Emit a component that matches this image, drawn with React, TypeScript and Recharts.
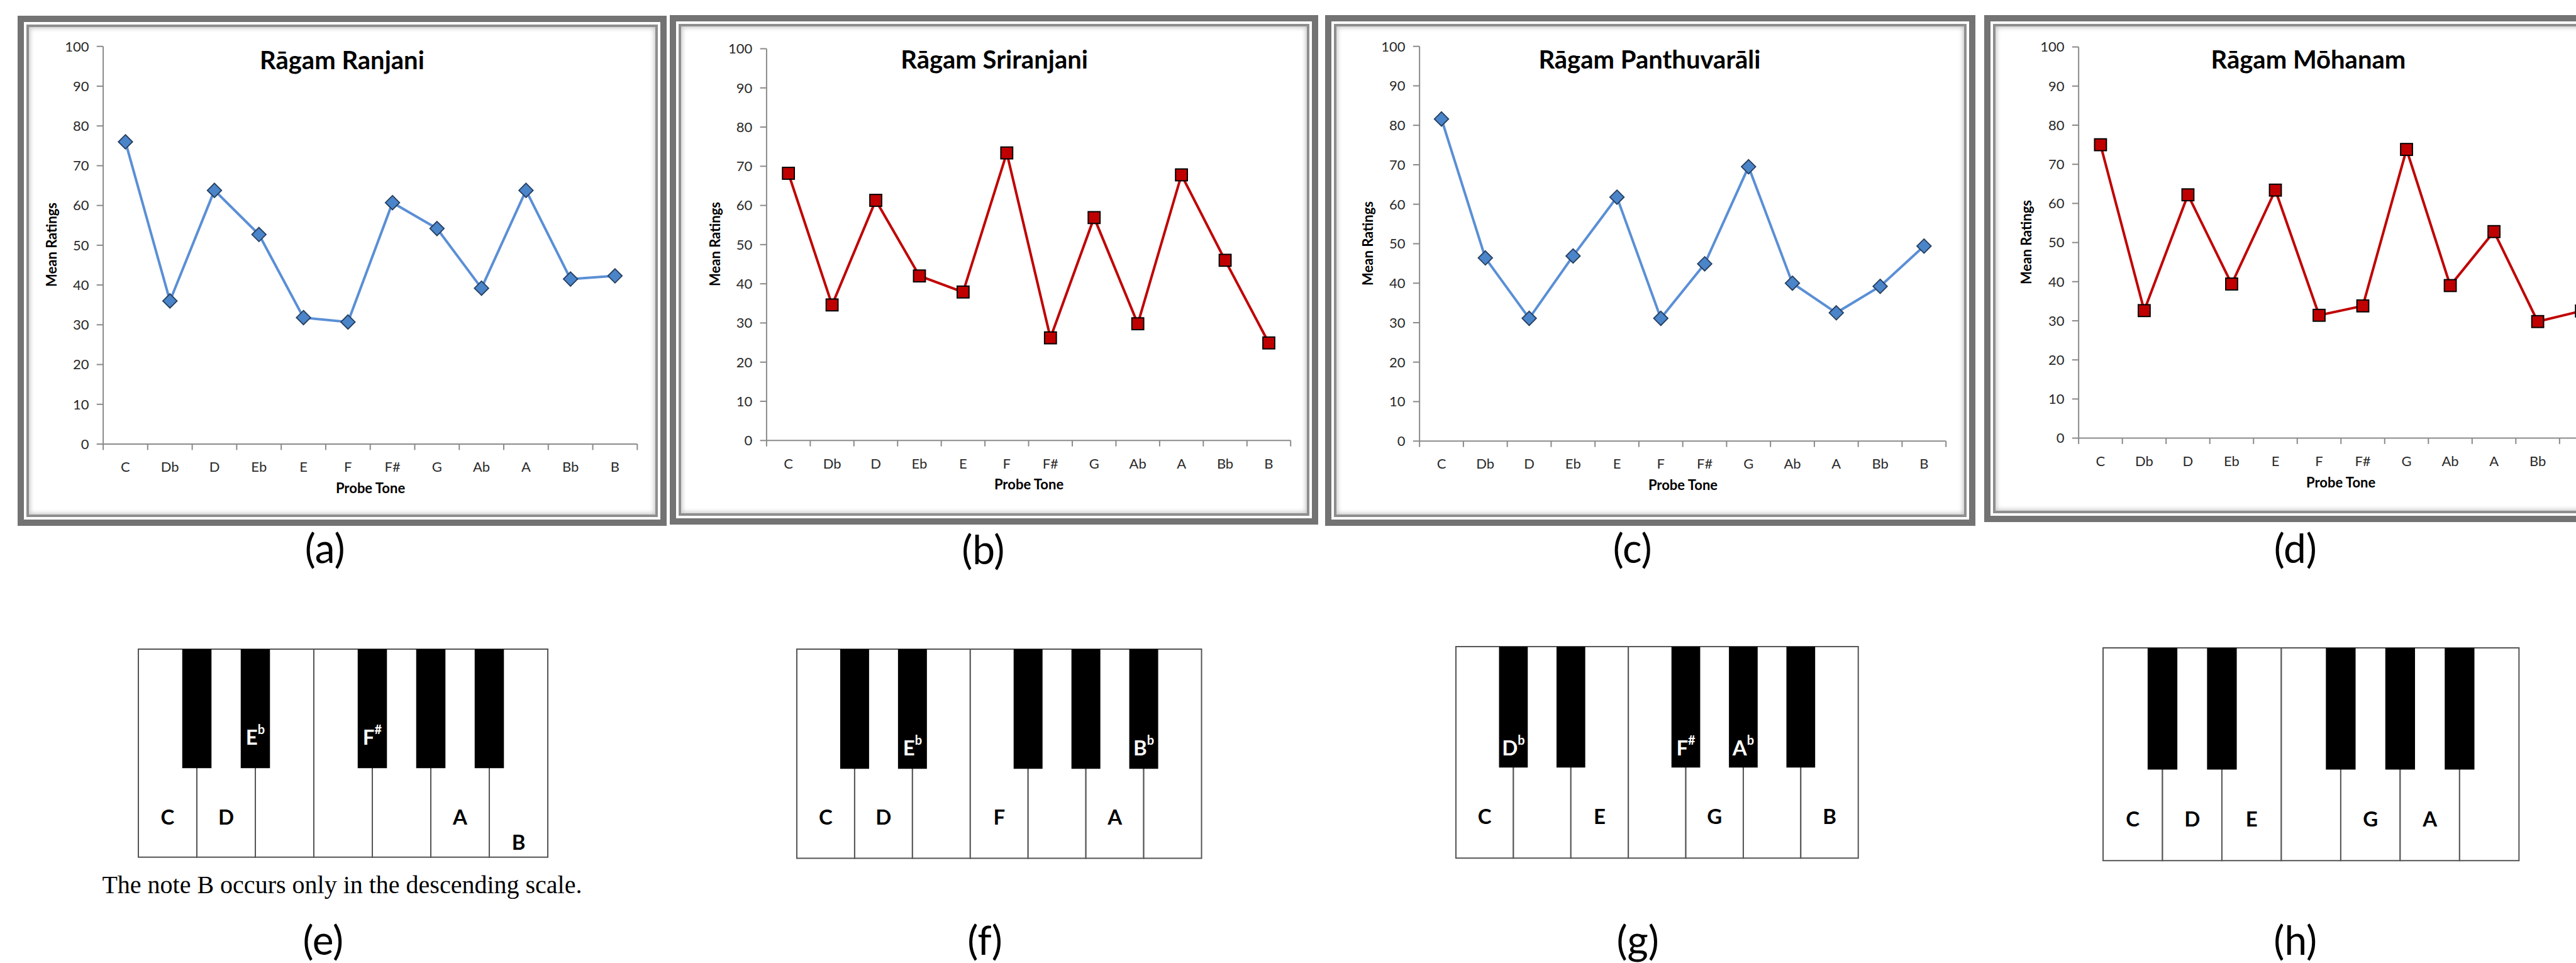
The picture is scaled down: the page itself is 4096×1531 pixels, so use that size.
import React from "react";
import {
  LineChart,
  Line,
  XAxis,
  YAxis,
  ScatterChart,
  Scatter,
  ReferenceArea,
} from "recharts";

// reference is 4360 wide, window is 4096
const S = 4096 / 4360;
const FONT = "Lato, 'Open Sans', sans-serif";
const AXIS = "#8a8a8a";

// probe tones on the x axis
const notes = ["C", "Db", "D", "Eb", "E", "F", "F#", "G", "Ab", "A", "Bb", "B"];
const yTicks = [0, 10, 20, 30, 40, 50, 60, 70, 80, 90, 100];

// mean ratings per probe tone
const ranjani = [76.0, 36.0, 63.8, 52.7, 31.8, 30.7, 60.7, 54.2, 39.2, 63.8, 41.5, 42.3];
const sriranjani = [68.2, 34.6, 61.3, 42.0, 37.9, 73.4, 26.2, 56.9, 29.8, 67.8, 46.0, 24.9];
const panthuvarali = [81.6, 46.4, 31.1, 46.9, 61.8, 31.1, 44.9, 69.5, 40.0, 32.5, 39.2, 49.4];
const mohanam = [75.0, 32.6, 62.2, 39.4, 63.4, 31.4, 33.8, 73.8, 39.0, 52.8, 29.8, 32.5];

const chartTitles = ["Rāgam Ranjani", "Rāgam Sriranjani", "Rāgam Panthuvarāli", "Rāgam Mōhanam"];
const chartTags = ["(a)", "(b)", "(c)", "(d)"];
const keyboardTags = ["(e)", "(f)", "(g)", "(h)"];

// piano keys: white by index, black keys sit on the white-key boundaries
const whiteKeys = ["C", "D", "E", "F", "G", "A", "B"];
const blackKeys = ["Db", "Eb", "F#", "Ab", "Bb"];
const blackKeyAt = [1, 2, 4, 5, 6];

// notes marked on each keyboard
const ranjaniWhite = ["C", "D", "A", "B"];
const ranjaniBlack = ["Eb", "F#"];
const sriranjaniWhite = ["C", "D", "F", "A"];
const sriranjaniBlack = ["Eb", "Bb"];
const panthuvaraliWhite = ["C", "E", "G", "B"];
const panthuvaraliBlack = ["Db", "F#", "Ab"];
const mohanamWhite = ["C", "D", "E", "G", "A"];
const mohanamBlack: string[] = [];

const footnote = "The note B occurs only in the descending scale.";

// layout, in reference pixels
const chartLayout = [
  { frame: [30, 27, 1128, 890], plot: [175, 78, 1079, 751], tag: [550, 927], red: false },
  { frame: [1134, 26, 2231, 888], plot: [1298, 82, 2185, 745], tag: [1664, 929], red: true },
  { frame: [2243, 26, 3343, 890], plot: [2403, 78, 3294, 746], tag: [2763, 927], red: false },
  { frame: [3358, 26, 4440, 884], plot: [3518, 79, 4406, 741], tag: [3885, 927], red: true },
];
const keyboardLayout = [
  { box: [234, 1098, 927, 1450], whiteY: 0.196, blackY: 0.58, low: "B", lowY: 0.074, tag: [547, 1590] },
  { box: [1349, 1098, 2034, 1452], whiteY: 0.2, blackY: 0.53, low: "", lowY: 0, tag: [1667, 1590] },
  { box: [2464, 1094, 3145, 1452], whiteY: 0.2, blackY: 0.525, low: "", lowY: 0, tag: [2772, 1590] },
  { box: [3560, 1096, 4264, 1456], whiteY: 0.2, blackY: 0.53, low: "", lowY: 0, tag: [3885, 1590] },
];

const xTicks: number[] = [];
notes.forEach((_, i) => xTicks.push(i, i + 0.5));
xTicks.push(notes.length);

const Txt = ({ x, y, size, bold, rotate, family, children }: any) => (
  <div
    style={{
      position: "absolute",
      left: x * S,
      top: y * S,
      transform: `translate(-50%, -50%)${rotate ? " rotate(-90deg)" : ""}`,
      whiteSpace: "nowrap",
      fontSize: size,
      fontWeight: bold ? 700 : 400,
      fontFamily: family || FONT,
      lineHeight: 1,
      color: "#000",
    }}
  >
    {children}
  </div>
);

// x axis: integer ticks are the tick marks between categories, half ticks carry the note names
const renderXTick = (props: any) => {
  const { x, y, payload } = props;
  const v = payload.value;
  if (Number.isInteger(v)) {
    return <line x1={x} y1={y} x2={x} y2={y + 10 * S} stroke={AXIS} strokeWidth={2} />;
  }
  return (
    <text x={x} y={y + 38 * S} textAnchor="middle" dominantBaseline="central" fill="#2a2a2a" fontSize={22} fontFamily={FONT}>
      {notes[Math.floor(v)]}
    </text>
  );
};

const renderDiamond = (p: any) => {
  const r = 12 * S;
  const { cx, cy } = p;
  return (
    <polygon
      key={`d${p.index}`}
      points={`${cx},${cy - r} ${cx + r},${cy} ${cx},${cy + r} ${cx - r},${cy}`}
      fill="#4a84c9"
      stroke="#253d5c"
      strokeWidth={1.8}
    />
  );
};

const renderSquare = (p: any) => {
  const h = 10 * S;
  return (
    <rect key={`s${p.index}`} x={p.cx - h} y={p.cy - h} width={2 * h} height={2 * h} fill="#c00000" stroke="#000" strokeWidth={2} />
  );
};

const RagaChart = ({ cfg, values, title, tag }: any) => {
  const [fl, ft, fr, fb] = cfg.frame;
  const [pl, pt, pr, pb] = cfg.plot;
  const bl = fl + 14, bt = ft + 14, br = fr - 14, bb = fb - 14;
  const yW = 110, xH = 90;
  const data = notes.map((note, i) => ({ x: i + 0.5, note, rating: values[i] }));
  const color = cfg.red ? "#c00000" : "#5a8fd6";

  return (
    <>
      <div
        style={{
          position: "absolute",
          left: fl * S,
          top: ft * S,
          width: (fr - fl) * S,
          height: (fb - ft) * S,
          boxSizing: "border-box",
          border: "10px solid #737373",
          padding: 4,
          background: "#fff",
        }}
      >
        <div
          style={{
            width: "100%",
            height: "100%",
            boxSizing: "border-box",
            border: "4px solid #8e8e8e",
            boxShadow: "inset 0 0 7px 2px rgba(0,0,0,0.22)",
          }}
        />
      </div>
      <div style={{ position: "absolute", left: bl * S, top: bt * S }}>
        <LineChart
          width={(br - bl) * S}
          height={(bb - bt) * S}
          data={data}
          margin={{
            top: (pt - bt) * S,
            right: (br - pr) * S,
            left: (pl - bl - yW) * S,
            bottom: (bb - pb - xH) * S,
          }}
        >
          <XAxis
            dataKey="x"
            type="number"
            domain={[0, 12]}
            ticks={xTicks}
            interval={0}
            height={xH * S}
            tickLine={false}
            tickSize={0}
            tickMargin={0}
            axisLine={{ stroke: AXIS, strokeWidth: 2 }}
            tick={renderXTick}
            allowDataOverflow
          />
          <YAxis
            type="number"
            domain={[0, 100]}
            ticks={yTicks}
            interval={0}
            width={yW * S}
            tickSize={11 * S}
            tickMargin={13 * S}
            axisLine={{ stroke: AXIS, strokeWidth: 2 }}
            tickLine={{ stroke: AXIS, strokeWidth: 2 }}
            tick={{ fill: "#2a2a2a", fontSize: 22, fontFamily: FONT }}
          />
          <Line
            type="linear"
            dataKey="rating"
            stroke={color}
            strokeWidth={4}
            dot={cfg.red ? renderSquare : renderDiamond}
            activeDot={false}
            isAnimationActive={false}
          />
        </LineChart>
      </div>
      <Txt x={fl + 549} y={ft + 74} size={40} bold>{title}</Txt>
      <Txt x={pl - 88} y={(pt + pb) / 2} size={22} bold rotate>Mean Ratings</Txt>
      <Txt x={(pl + pr) / 2} y={pb + 75} size={22} bold>Probe Tone</Txt>
      <Txt x={cfg.tag[0]} y={cfg.tag[1]} size={64}>{tag}</Txt>
    </>
  );
};

const renderKeyLabel = (p: any) => {
  const d = p.payload;
  return (
    <text
      key={`k${d.name}${d.acc}`}
      x={p.cx}
      y={p.cy}
      textAnchor="middle"
      dominantBaseline="central"
      fill={d.black ? "#fff" : "#000"}
      fontSize={33}
      fontWeight={700}
      fontFamily={FONT}
    >
      <tspan>{d.name}</tspan>
      {d.acc ? (
        <tspan dy={-12} fontSize={20}>
          {d.acc === "b" ? "b" : "#"}
        </tspan>
      ) : null}
    </text>
  );
};

const Keyboard = ({ cfg, white, black, tag }: any) => {
  const [l, t, r, b] = cfg.box;
  const pad = 2;
  const labels = [
    ...white.map((n: string) => ({
      x: whiteKeys.indexOf(n) + 0.5,
      y: n === cfg.low ? cfg.lowY : cfg.whiteY,
      name: n,
      acc: "",
      black: false,
    })),
    ...black.map((n: string) => ({
      x: blackKeyAt[blackKeys.indexOf(n)],
      y: cfg.blackY,
      name: n[0],
      acc: n[1],
      black: true,
    })),
  ];
  return (
    <>
      <div style={{ position: "absolute", left: l * S - pad, top: t * S - pad }}>
        <ScatterChart
          width={(r - l) * S + 2 * pad}
          height={(b - t) * S + 2 * pad}
          margin={{ top: pad, right: pad, bottom: pad, left: pad }}
        >
          <XAxis type="number" dataKey="x" domain={[0, 7]} hide allowDataOverflow />
          <YAxis type="number" dataKey="y" domain={[0, 1]} hide allowDataOverflow />
          {whiteKeys.map((k, i) => (
            <ReferenceArea
              key={k}
              x1={i}
              x2={i + 1}
              y1={0}
              y2={1}
              fill="#fff"
              fillOpacity={1}
              stroke="#555"
              strokeWidth={2}
            />
          ))}
          {blackKeyAt.map((pos) => (
            <ReferenceArea
              key={`b${pos}`}
              x1={pos - 0.25}
              x2={pos + 0.25}
              y1={1 - 0.572}
              y2={1}
              fill="#000"
              fillOpacity={1}
              stroke="none"
            />
          ))}
          <Scatter data={labels} isAnimationActive={false} shape={renderKeyLabel} />
        </ScatterChart>
      </div>
      <Txt x={cfg.tag[0]} y={cfg.tag[1]} size={64}>{tag}</Txt>
    </>
  );
};

export default function App() {
  const series = [ranjani, sriranjani, panthuvarali, mohanam];
  const whites = [ranjaniWhite, sriranjaniWhite, panthuvaraliWhite, mohanamWhite];
  const blacks = [ranjaniBlack, sriranjaniBlack, panthuvaraliBlack, mohanamBlack];
  return (
    <div
      style={{
        position: "fixed",
        left: 0,
        top: 0,
        width: 4096,
        height: 1531,
        overflow: "hidden",
        background: "#fff",
      }}
    >
      {chartLayout.map((cfg, i) => (
        <RagaChart key={i} cfg={cfg} values={series[i]} title={chartTitles[i]} tag={chartTags[i]} />
      ))}
      {keyboardLayout.map((cfg, i) => (
        <Keyboard key={i} cfg={cfg} white={whites[i]} black={blacks[i]} tag={keyboardTags[i]} />
      ))}
      <Txt x={579} y={1498} size={40} family="'Liberation Serif', 'Times New Roman', serif">
        {footnote}
      </Txt>
    </div>
  );
}
